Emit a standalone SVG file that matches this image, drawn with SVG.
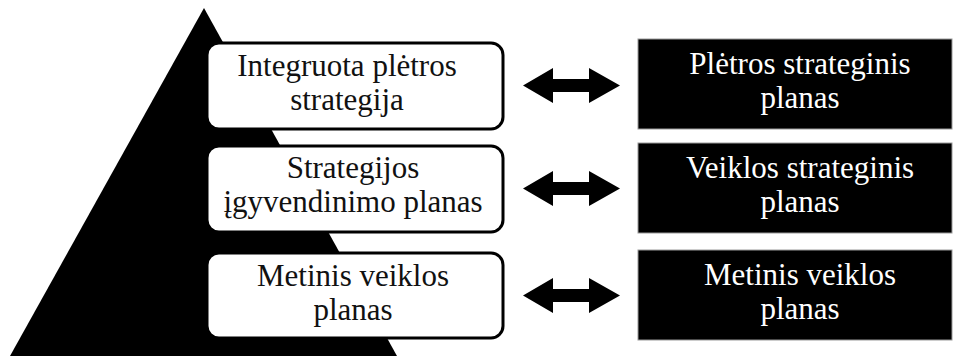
<svg xmlns="http://www.w3.org/2000/svg" width="954" height="356" viewBox="0 0 954 356">
<style>
.lbox{fill:#fff;stroke:#000;stroke-width:3}
.rbox{fill:#000;stroke:#999;stroke-width:1}
.t{font-family:"Liberation Serif","Times New Roman",serif;font-size:31px;text-anchor:middle}
.dk{fill:#111}
.lt{fill:#fff}
.arr{fill:#000}
</style>
<defs>
<path id="dblarrow" d="M0,0 L30,-17.5 L30,-6.5 L66,-6.5 L66,-17.5 L97,0 L66,17.5 L66,6.5 L30,6.5 L30,17.5 Z"/>
</defs>
<rect width="954" height="356" fill="#fff"/>
<polygon id="pyramid" points="204,8 397,356 10,356" fill="#000"/>
<g id="left1">
<rect class="lbox" x="207" y="43" width="296" height="86" rx="12"/>
<text class="t dk" x="347" y="76">Integruota plėtros</text>
<text class="t dk" x="347" y="110">strategija</text>
</g>
<g id="left2">
<rect class="lbox" x="207" y="146" width="296" height="86" rx="12"/>
<text class="t dk" x="353" y="178">Strategijos</text>
<text class="t dk" x="353" y="212">įgyvendinimo planas</text>
</g>
<g id="left3">
<rect class="lbox" x="207" y="253" width="296" height="85" rx="12"/>
<text class="t dk" x="353" y="286">Metinis veiklos</text>
<text class="t dk" x="353" y="320">planas</text>
</g>
<g id="right1">
<rect class="rbox" x="638" y="39" width="314" height="90"/>
<text class="t lt" x="800" y="74">Plėtros strateginis</text>
<text class="t lt" x="800" y="108">planas</text>
</g>
<g id="right2">
<rect class="rbox" x="638" y="143" width="314" height="90"/>
<text class="t lt" x="800" y="178">Veiklos strateginis</text>
<text class="t lt" x="800" y="212">planas</text>
</g>
<g id="right3">
<rect class="rbox" x="638" y="250" width="314" height="90"/>
<text class="t lt" x="800" y="285">Metinis veiklos</text>
<text class="t lt" x="800" y="319">planas</text>
</g>
<g id="connectors">
<use href="#dblarrow" class="arr" x="523" y="85.5"/>
<use href="#dblarrow" class="arr" x="523" y="188.5"/>
<use href="#dblarrow" class="arr" x="523" y="295.5"/>
</g>
</svg>
